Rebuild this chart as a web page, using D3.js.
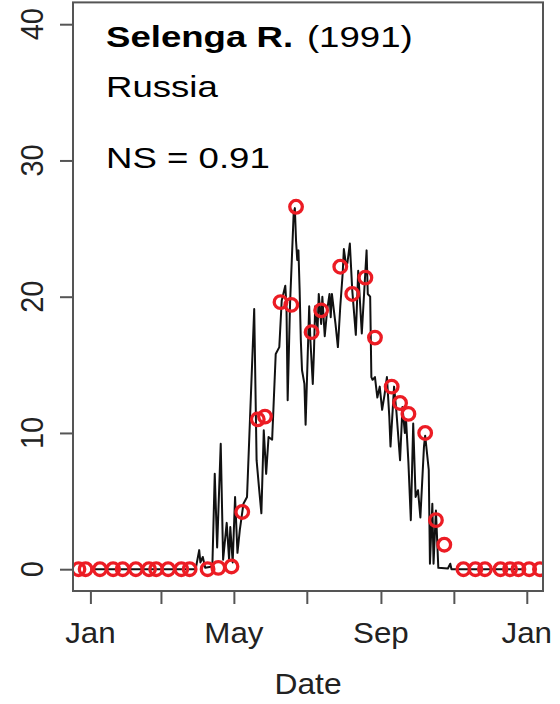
<!DOCTYPE html>
<html>
<head>
<meta charset="utf-8">
<script src="https://cdn.jsdelivr.net/npm/d3@7"></script>
<style>
  body { margin: 0; background: #fff; }
  svg { display: block; }
</style>
</head>
<body>
<div id="chart"></div>
<script>
// simulated daily discharge (days since 1 Jan 1991)
const simDays = [0, 88, 91, 92, 94, 96, 102, 104, 106, 109, 111, 114, 116, 117, 119, 121, 123, 125, 128, 131,
  137, 139, 141, 143, 145, 147, 149, 152, 155, 158, 160, 163, 164, 165, 167, 170, 171, 172, 173, 174,
  175, 176, 177, 179, 180, 183, 184, 186, 187, 188, 190, 191, 193, 194, 196, 198, 200, 201, 202, 205,
  207, 209, 211, 212, 214, 215, 217, 219, 222, 224, 227, 231, 232, 234, 235, 236, 238, 240, 242, 244,
  246, 248, 250, 251, 254, 256, 259, 261, 263, 264, 266, 268, 270, 272, 274, 276, 279, 280, 283, 284,
  286, 287, 289, 291, 299, 301, 302, 364];
const simFlow = [0, 0, 1.4, 0.5, 0.9, 0.1, 0.2, 7.0, 1.6, 9.2, 0.7, 3.4, 0.7, 3.1, 0.5, 5.3, 1.2, 2.9, 4.8, 5.3,
  19.1, 8.0, 6.0, 4.1, 10.2, 7.0, 9.7, 9.5, 15.8, 16.3, 19.7, 20.8, 19.3, 12.4, 19.5, 26.1, 26.5, 24.1, 22.7, 23.4,
  20.5, 16.8, 14.6, 13.6, 10.6, 19.3, 16.8, 13.6, 16.0, 19.3, 17.6, 20.2, 18.0, 20.0, 17.1, 19.0, 20.2, 18.5, 20.2, 18.0,
  16.3, 19.3, 21.7, 23.5, 22.2, 22.5, 23.9, 20.5, 17.2, 21.9, 17.3, 23.4, 20.2, 20.0, 14.1, 13.9, 14.1, 12.6, 13.4, 11.7,
  12.8, 14.1, 11.2, 9.0, 13.4, 11.5, 8.0, 11.9, 10.0, 11.0, 7.8, 3.6, 10.7, 5.3, 5.8, 3.8, 9.0, 9.8, 7.3, 0.4,
  4.8, 0.4, 4.3, 0.1, 0.05, 0.4, 0, 0];

// observed discharge
const obsDays = [-10, -4, 8, 19, 27, 38, 49, 55, 65, 76, 83, 98, 107, 118, 127, 140, 146, 159, 168, 172,
  185, 193, 209, 219, 230, 238, 252, 259, 266, 280, 289, 296, 312, 322, 330, 343, 351, 358, 367, 376];
const obsFlow = [0, 0, 0, 0, 0, 0, 0, 0, 0, 0, 0, 0, 0.1, 0.2, 4.2, 11.0, 11.2, 19.6, 19.4, 26.6,
  17.4, 19.0, 22.2, 20.2, 21.4, 17.0, 13.4, 12.2, 11.4, 10.0, 3.6, 1.8, 0, 0, 0, 0, 0, 0, 0, 0];

const yTicks = [0, 10, 20, 30, 40];
const tickMonths = [0, 2, 4, 6, 8, 10, 12];
const labelMonths = [0, 4, 8, 12];

const width = 560;
const height = 704;
const plotLeft = 73, plotRight = 543, plotTop = 2.4, plotBottom = 591;

const t0 = new Date(Date.UTC(1991, 0, 1));
const day = d => new Date(+t0 + d * 864e5);
const pad = 364 * 0.04;

const x = d3.scaleUtc()
    .domain([day(-pad), day(364 + pad)])
    .range([plotLeft, plotRight]);

const y = d3.scaleLinear()
    .domain([-1.6, 41.6])
    .range([plotBottom, plotTop]);

const svg = d3.select("#chart")
    .append("svg")
    .attr("width", width)
    .attr("height", height)
    .style("font-family", "'Liberation Sans', Arial, Helvetica, sans-serif");

svg.append("clipPath")
    .attr("id", "plotclip")
    .append("rect")
    .attr("x", plotLeft)
    .attr("y", plotTop)
    .attr("width", plotRight - plotLeft)
    .attr("height", plotBottom - plotTop);

const plot = svg.append("g").attr("clip-path", "url(#plotclip)");

const sim = simDays.map((d, i) => ({ date: day(d), q: simFlow[i] }));
const obs = obsDays.map((d, i) => ({ date: day(d), q: obsFlow[i] }));

plot.append("path")
    .datum(sim)
    .attr("fill", "none")
    .attr("stroke", "#111")
    .attr("stroke-width", 2)
    .attr("stroke-linejoin", "round")
    .attr("d", d3.line().x(d => x(d.date)).y(d => y(d.q)));

plot.append("g")
    .selectAll("circle")
    .data(obs)
    .enter().append("circle")
    .attr("cx", d => x(d.date))
    .attr("cy", d => y(d.q))
    .attr("r", 6.3)
    .attr("fill", "none")
    .attr("stroke", "#ec1c24")
    .attr("stroke-width", 3.3);

// axes (ticks only, box drawn separately)
const yAxis = svg.append("g")
    .attr("transform", `translate(${plotLeft},0)`)
    .call(d3.axisLeft(y).tickValues(yTicks).tickSize(13).tickFormat(""));

const xAxis = svg.append("g")
    .attr("transform", `translate(0,${plotBottom})`)
    .call(d3.axisBottom(x).tickValues(tickMonths.map(m => d3.utcMonth.offset(t0, m))).tickSize(13).tickFormat(""));

[yAxis, xAxis].forEach(a => {
    a.select(".domain").remove();
    a.selectAll(".tick line").attr("stroke", "#555").attr("stroke-width", 2);
});

svg.append("rect")
    .attr("x", plotLeft)
    .attr("y", plotTop)
    .attr("width", plotRight - plotLeft)
    .attr("height", plotBottom - plotTop)
    .attr("fill", "none")
    .attr("stroke", "#555")
    .attr("stroke-width", 2);

// tick labels (image is slightly stretched horizontally)
svg.append("g")
    .selectAll("text")
    .data(yTicks)
    .enter().append("text")
    .attr("transform", d => `translate(43,${y(d)}) scale(1.1,1) rotate(-90)`)
    .attr("text-anchor", "middle")
    .style("font-size", "29px")
    .style("fill", "#222")
    .text(d => d);

svg.append("g")
    .selectAll("text")
    .data(labelMonths)
    .enter().append("text")
    .attr("transform", m => `translate(${x(d3.utcMonth.offset(t0, m))},643) scale(1.08,1)`)
    .attr("text-anchor", "middle")
    .style("font-size", "29px")
    .style("fill", "#222")
    .text(m => d3.utcFormat("%b")(d3.utcMonth.offset(t0, m)));

svg.append("text")
    .attr("transform", `translate(${(plotLeft + plotRight) / 2},694) scale(1.06,1)`)
    .attr("text-anchor", "middle")
    .style("font-size", "30px")
    .style("fill", "#222")
    .text("Date");

// annotation
const note = svg.append("g")
    .style("font-size", "30px")
    .style("fill", "#000");

const title = note.append("text")
    .attr("transform", "translate(106,47) scale(1.22,1)");
title.append("tspan").style("font-weight", "bold").text("Selenga R.");
title.append("tspan").attr("dx", 3).text(" (1991)");

note.append("text")
    .attr("transform", "translate(106,97) scale(1.22,1)")
    .text("Russia");

note.append("text")
    .attr("transform", "translate(106,168) scale(1.22,1)")
    .text("NS = 0.91");
</script>
</body>
</html>
